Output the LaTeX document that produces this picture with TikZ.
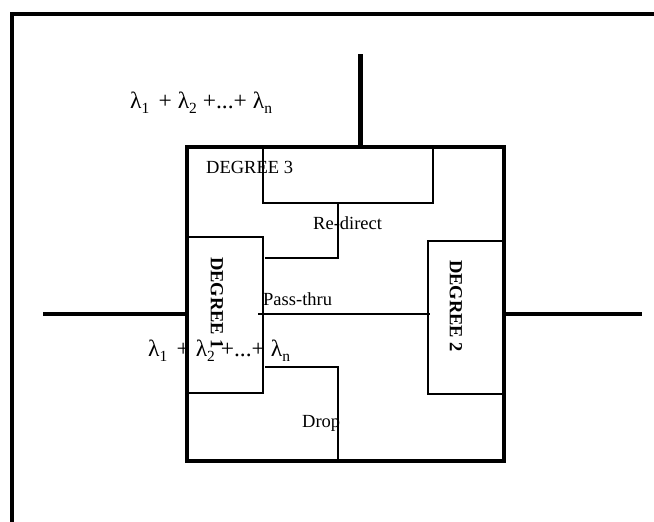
\documentclass[tikz,border=0pt]{standalone}
\usepackage{fontspec}
\setmainfont{Liberation Serif}
\newcommand{\lsub}[1]{λ\raisebox{-5pt}{\fontsize{15.5}{16}\selectfont #1}}
\newcommand{\lamsum}{\lsub{1}\hspace{3.5pt} + \lsub{2} +...+ \lsub{n}}
\begin{document}
\begin{tikzpicture}[x=1pt,y=-1pt,
  heavy/.style={line width=4pt},
  boxline/.style={line width=2pt},
  link/.style={line width=1.3pt},
  lbl/.style={inner sep=0pt,anchor=base west,font=\fontsize{18.5}{20}\selectfont},
  vlbl/.style={inner sep=0pt,anchor=west,rotate=-90,font=\fontsize{18.5}{20}\selectfont\bfseries},
  sumlbl/.style={inner sep=0pt,anchor=base west,font=\fontsize{23.5}{25}\selectfont}]
\useasboundingbox (0,0) rectangle (654,522);
% open outer frame
\coordinate (fbl) at (12,522);
\coordinate (ftl) at (12,14);
\coordinate (ftr) at (654,14);
\draw[heavy] (fbl) -- (ftl) -- (ftr);
% labels
\node[sumlbl] (sumtop) at (130,108.3) {\lamsum};
\node[sumlbl] (sumbot) at (148,356.7) {\lamsum};
% main box and stubs
\node[draw,heavy,inner sep=0pt,minimum width=317.5pt,minimum height=314.5pt,anchor=north west] (main) at (184.5,144.5) {};
\coordinate (topend) at (360.5,54);
\coordinate (leftend) at (43,314);
\coordinate (rightend) at (642,314);
\draw[line width=5pt] (topend) -- (topend |- main.north);
\draw[line width=4.5pt] (leftend) -- (leftend -| main.west);
\draw[line width=4.5pt] (rightend -| main.east) -- (rightend);
% degree boxes
\node[draw,boxline,inner sep=0pt,minimum width=170pt,minimum height=57pt,anchor=north west] (d3) at (262,145) {};
\node[draw,boxline,inner sep=0pt,minimum width=77pt,minimum height=155.5pt,anchor=north west] (d1) at (185,236) {};
\node[draw,boxline,inner sep=0pt,minimum width=75pt,minimum height=153pt,anchor=north west] (d2) at (427,240) {};
\node[lbl] (t3) at (206,173.3) {DEGREE 3};
\node[vlbl] (t1) at (217,257) {DEGREE 1};
\node[vlbl] (t2) at (456,260) {DEGREE 2};
% connectors
\coordinate (rdc) at (338,258);
\coordinate (rde) at (265,258);
\draw[link] (rdc |- d3.south) -- (rdc) -- (rde);
\coordinate (pts) at (258,314);
\coordinate (pte) at (430,314);
\draw[link] (pts) -- (pte);
\coordinate (dps) at (265,367);
\coordinate (dpc) at (338,367);
\draw[link] (dps) -- (dpc) -- (dpc |- main.south);
\node[lbl] (trd) at (313,229) {Re-direct};
\node[lbl] (tpt) at (263,305) {Pass-thru};
\node[lbl] (tdp) at (302,427) {Drop};
\end{tikzpicture}
\end{document}
